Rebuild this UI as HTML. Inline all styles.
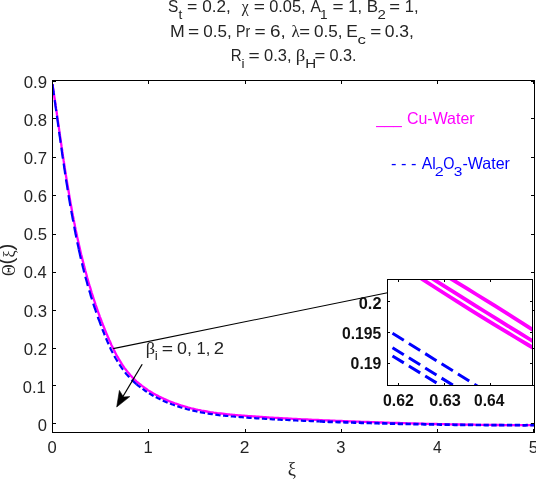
<!DOCTYPE html>
<html><head><meta charset="utf-8"><title>Temperature profile</title>
<style>html,body{margin:0;padding:0;background:#fff;}body{width:536px;height:479px;overflow:hidden;position:relative}</style>
</head><body>
<svg width="536" height="479" viewBox="0 0 536 479" style="position:absolute;left:0;top:0">
<rect width="536" height="479" fill="#fff"/>
<clipPath id="pc"><rect x="53" y="81" width="481" height="351"/></clipPath>
<g clip-path="url(#pc)">
<path d="M52.9,84.3 L52.8,86.0 L53.0,87.8 L53.3,89.5 L53.6,91.3 L53.8,93.0 L54.1,94.8 L54.3,96.6 L54.6,98.3 L54.9,100.1 L55.1,101.8 L55.4,103.6 L55.6,105.4 L55.9,107.1 L56.1,108.9 L56.4,110.7 L56.7,112.4 L56.9,114.2 L57.2,116.0 L57.4,117.7 L57.7,119.5 L57.9,121.3 L58.2,123.0 L58.4,124.8 L58.7,126.6 L59.0,128.4 L59.2,130.1 L59.5,131.9 L59.7,133.7 L60.0,135.5 L60.2,137.3 L60.5,139.0 L60.8,140.8 L61.0,142.6 L61.3,144.4 L61.5,146.2 L61.8,147.9 L62.1,149.7 L62.3,151.5 L62.6,153.3 L62.8,155.1 L63.1,156.9 L63.4,158.7 L63.6,160.4 L63.9,162.2 L64.2,164.0 L64.5,165.8 L64.7,167.6 L65.0,169.4 L65.3,171.1 L65.6,172.9 L65.8,174.7 L66.1,176.5 L66.4,178.3 L66.7,180.1 L67.0,181.9 L67.3,183.6 L67.6,185.4 L67.9,187.2 L68.2,189.0 L68.5,190.8 L68.8,192.6 L69.1,194.4 L69.4,196.1 L69.7,197.9 L70.0,199.7 L70.3,201.5 L70.6,203.3 L70.9,205.1 L71.3,206.8 L71.6,208.6 L71.9,210.4 L72.2,212.2 L72.6,214.0 L72.9,215.7 L73.3,217.5 L73.6,219.3 L74.0,221.1 L74.3,222.8 L74.7,224.6 L75.0,226.4 L75.4,228.2 L75.7,229.9 L76.1,231.7 L76.5,233.5 L76.9,235.2 L77.2,237.0 L77.6,238.8 L78.0,240.5 L78.4,242.3 L78.8,244.1 L79.2,245.8 L79.6,247.6 L80.0,249.3 L80.4,251.1 L80.8,252.9 L81.2,254.6 L81.7,256.4 L82.1,258.1 L82.5,259.9 L83.0,261.6 L83.4,263.4 L83.9,265.1 L84.3,266.9 L84.8,268.6 L85.2,270.3 L85.7,272.1 L86.2,273.8 L86.7,275.6 L87.1,277.3 L87.6,279.0 L88.1,280.8 L88.6,282.5 L89.1,284.2 L89.6,285.9 L90.2,287.7 L90.7,289.4 L91.2,291.1 L91.7,292.8 L92.3,294.5 L92.8,296.2 L93.4,298.0 L93.9,299.7 L94.5,301.4 L95.1,303.1 L95.6,304.8 L96.2,306.5 L96.8,308.2 L97.4,309.9 L98.0,311.6 L98.6,313.3 L99.2,315.0 L99.8,316.6 L100.5,318.3 L101.1,320.0 L101.7,321.7 L102.4,323.4 L103.0,325.0 L103.7,326.7 L104.4,328.4 L105.0,330.0 L105.7,331.7 L106.4,333.4 L107.1,335.0 L107.8,336.7 L108.5,338.3 L109.2,340.0 L110.0,341.6 L110.7,343.3 L111.4,344.9 L112.2,346.5 L113.0,348.1 L113.8,349.7 L114.6,351.3 L115.4,352.9 L116.2,354.5 L117.1,356.1 L118.0,357.6 L118.8,359.2 L119.8,360.7 L120.7,362.2 L121.6,363.7 L122.6,365.2 L123.6,366.6 L124.6,368.1 L125.7,369.5 L126.8,370.9 L127.9,372.3 L129.0,373.6 L130.2,375.0 L131.4,376.3 L132.6,377.6 L133.8,378.8 L135.1,380.1 L136.4,381.3 L137.8,382.5 L139.2,383.6 L140.6,384.7 L142.0,385.9 L143.4,386.9 L144.9,388.0 L146.4,389.0 L147.9,390.1 L149.4,391.1 L151.0,392.0 L152.6,393.0 L154.2,393.9 L155.8,394.8 L157.4,395.6 L159.0,396.5 L160.7,397.3 L162.3,398.1 L164.0,398.9 L165.6,399.6 L167.3,400.4 L169.0,401.1 L170.7,401.7 L172.4,402.4 L174.1,403.0 L175.8,403.7 L177.5,404.2 L179.2,404.8 L180.9,405.4 L182.6,405.9 L184.3,406.4 L186.0,406.9 L187.7,407.4 L189.4,407.8 L191.2,408.3 L192.9,408.7 L194.6,409.1 L196.3,409.5 L198.1,409.9 L199.8,410.2 L201.5,410.6 L203.3,410.9 L205.0,411.2 L206.8,411.5 L208.5,411.8 L210.3,412.1 L212.0,412.3 L213.8,412.6 L215.5,412.8 L217.3,413.1 L219.1,413.3 L220.8,413.5 L222.6,413.7 L224.4,413.9 L226.1,414.1 L227.9,414.3 L229.7,414.5 L231.5,414.6 L233.2,414.8 L235.0,415.0 L236.8,415.1 L238.6,415.3 L240.4,415.4 L242.2,415.6 L244.0,415.7 L245.7,415.8 L247.5,416.0 L249.3,416.1 L251.1,416.2 L252.9,416.4 L254.7,416.5 L256.5,416.6 L258.3,416.7 L260.1,416.9 L261.9,417.0 L263.7,417.1 L265.5,417.2 L267.3,417.3 L269.1,417.5 L270.9,417.6 L272.7,417.7 L274.6,417.8 L276.4,417.9 L278.2,418.0 L280.0,418.1 L281.8,418.2 L283.6,418.3 L285.4,418.4 L287.2,418.5 L289.1,418.6 L290.9,418.7 L292.7,418.8 L294.5,418.9 L296.3,419.0 L298.1,419.1 L299.9,419.2 L301.8,419.3 L303.6,419.4 L305.4,419.4 L307.2,419.5 L309.0,419.6 L310.8,419.7 L312.6,419.8 L314.5,419.9 L316.3,419.9 L318.1,420.0 L319.9,420.1 L321.7,420.2 L323.5,420.3 L325.3,420.3 L327.2,420.4 L329.0,420.5 L330.8,420.6 L332.6,420.6 L334.4,420.7 L336.2,420.8 L338.0,420.9 L339.8,420.9 L341.6,421.0 L343.5,421.1 L345.3,421.1 L347.1,421.2 L348.9,421.3 L350.7,421.4 L352.5,421.4 L354.3,421.5 L356.1,421.6 L357.9,421.6 L359.7,421.7 L361.5,421.8 L363.3,421.8 L365.1,421.9 L366.9,422.0 L368.7,422.0 L370.5,422.1 L372.3,422.2 L374.1,422.2 L375.9,422.3 L377.7,422.3 L379.4,422.4 L381.2,422.5 L383.0,422.5 L384.8,422.6 L386.6,422.6 L388.4,422.7 L390.2,422.8 L392.0,422.8 L393.8,422.9 L395.6,422.9 L397.4,423.0 L399.2,423.0 L400.9,423.1 L402.7,423.1 L404.5,423.2 L406.3,423.3 L408.1,423.3 L409.9,423.4 L411.7,423.4 L413.5,423.5 L415.3,423.5 L417.0,423.6 L418.8,423.6 L420.6,423.6 L422.4,423.7 L424.2,423.7 L426.0,423.8 L427.8,423.8 L429.6,423.9 L431.4,423.9 L433.1,424.0 L434.9,424.0 L436.7,424.0 L438.5,424.1 L440.3,424.1 L442.1,424.2 L443.9,424.2 L445.7,424.2 L447.5,424.3 L449.3,424.3 L451.1,424.3 L452.8,424.4 L454.6,424.4 L456.4,424.5 L458.2,424.5 L460.0,424.5 L461.8,424.5 L463.6,424.6 L465.4,424.6 L467.2,424.6 L469.0,424.7 L470.8,424.7 L472.6,424.7 L474.4,424.7 L476.2,424.8 L478.0,424.8 L479.8,424.8 L481.6,424.8 L483.4,424.9 L485.2,424.9 L487.0,424.9 L488.8,424.9 L490.6,424.9 L492.4,425.0 L494.2,425.0 L496.0,425.0 L497.8,425.0 L499.6,425.0 L501.4,425.0 L503.3,425.1 L505.1,425.1 L506.9,425.1 L508.7,425.1 L510.5,425.1 L512.3,425.1 L514.1,425.1 L516.0,425.1 L517.8,425.1 L519.6,425.1 L521.4,425.1 L523.2,425.1 L525.1,425.1 L526.9,425.1 L528.7,425.1 L530.5,425.1 L532.4,425.1 L534.2,425.1" fill="none" stroke="#ff00ff" stroke-width="2.3"/>
<path d="M52.8,84.3 L52.7,86.0 L52.9,87.8 L53.2,89.6 L53.4,91.3 L53.7,93.1 L53.9,94.8 L54.2,96.6 L54.4,98.3 L54.7,100.1 L54.9,101.9 L55.2,103.6 L55.4,105.4 L55.7,107.2 L55.9,108.9 L56.2,110.7 L56.4,112.5 L56.7,114.2 L56.9,116.0 L57.2,117.8 L57.4,119.5 L57.7,121.3 L57.9,123.1 L58.1,124.9 L58.4,126.6 L58.6,128.4 L58.9,130.2 L59.1,132.0 L59.4,133.8 L59.6,135.5 L59.9,137.3 L60.1,139.1 L60.4,140.9 L60.6,142.7 L60.9,144.4 L61.1,146.2 L61.4,148.0 L61.6,149.8 L61.9,151.6 L62.1,153.4 L62.4,155.2 L62.6,156.9 L62.9,158.7 L63.2,160.5 L63.4,162.3 L63.7,164.1 L64.0,165.9 L64.2,167.7 L64.5,169.4 L64.8,171.2 L65.0,173.0 L65.3,174.8 L65.6,176.6 L65.8,178.4 L66.1,180.2 L66.4,182.0 L66.7,183.7 L67.0,185.5 L67.3,187.3 L67.5,189.1 L67.8,190.9 L68.1,192.7 L68.4,194.5 L68.7,196.3 L69.0,198.0 L69.3,199.8 L69.6,201.6 L69.9,203.4 L70.2,205.2 L70.6,207.0 L70.9,208.7 L71.2,210.5 L71.5,212.3 L71.8,214.1 L72.2,215.9 L72.5,217.7 L72.8,219.4 L73.2,221.2 L73.5,223.0 L73.8,224.8 L74.2,226.5 L74.5,228.3 L74.8,230.1 L75.2,231.9 L75.5,233.7 L75.9,235.4 L76.2,237.2 L76.6,239.0 L77.0,240.8 L77.3,242.5 L77.7,244.3 L78.1,246.1 L78.5,247.8 L78.8,249.6" fill="none" stroke="#0000ff" stroke-width="2.2" stroke-dasharray="11 5"/>
<path d="M78.8,249.6 L79.2,251.4 L79.6,253.1 L80.0,254.9 L80.4,256.7 L80.8,258.4 L81.2,260.2 L81.7,261.9 L82.1,263.7 L82.5,265.5 L82.9,267.2 L83.4,269.0 L83.8,270.7 L84.2,272.5 L84.7,274.2 L85.2,276.0 L85.6,277.7 L86.1,279.5 L86.6,281.2 L87.1,282.9 L87.5,284.7 L88.0,286.4 L88.5,288.1 L89.0,289.9 L89.6,291.6 L90.1,293.3 L90.6,295.1 L91.1,296.8 L91.7,298.5 L92.2,300.2 L92.7,302.0 L93.3,303.7 L93.8,305.4 L94.4,307.1 L95.0,308.8 L95.6,310.5 L96.1,312.2 L96.7,313.9 L97.3,315.6 L97.9,317.3 L98.5,319.0 L99.2,320.7 L99.8,322.4 L100.4,324.1 L101.1,325.8 L101.7,327.5 L102.3,329.2" fill="none" stroke="#0000ff" stroke-width="2.2" stroke-dasharray="9.5 4.5"/>
<path d="M102.3,329.2 L103.0,330.9 L103.7,332.5 L104.3,334.2 L105.0,335.9 L105.7,337.6 L106.4,339.2 L107.1,340.9 L107.8,342.6 L108.6,344.2 L109.3,345.9 L110.1,347.5 L110.8,349.2 L111.6,350.8 L112.5,352.4 L113.3,354.0 L114.1,355.6 L115.0,357.2 L115.9,358.8 L116.8,360.3 L117.8,361.9 L118.7,363.4 L119.7,364.9 L120.7,366.4 L121.7,367.9 L122.8,369.4 L123.9,370.8 L125.0,372.3 L126.1,373.7 L127.3,375.1 L128.5,376.4 L129.7,377.8 L131.0,379.1 L132.3,380.4 L133.6,381.6 L135.0,382.9 L136.4,384.1" fill="none" stroke="#0000ff" stroke-width="2.2" stroke-dasharray="6.5 3.3"/>
<path d="M136.4,384.1 L137.8,385.3 L139.2,386.4 L140.7,387.6 L142.2,388.7 L143.7,389.7 L145.2,390.8 L146.8,391.8 L148.3,392.8 L149.9,393.8 L151.5,394.7 L153.1,395.7 L154.8,396.6 L156.4,397.4 L158.1,398.3 L159.8,399.1 L161.4,399.9 L163.1,400.7 L164.8,401.4 L166.5,402.2 L168.2,402.9 L170.0,403.5 L171.7,404.2 L173.4,404.8 L175.1,405.5 L176.8,406.0 L178.6,406.6 L180.3,407.2 L182.0,407.7 L183.7,408.2 L185.5,408.7 L187.2,409.2 L189.0,409.6 L190.7,410.1 L192.4,410.5 L194.2,410.9 L195.9,411.3 L197.7,411.7 L199.4,412.0 L201.2,412.4 L203.0,412.7 L204.7,413.0 L206.5,413.3 L208.2,413.6 L210.0,413.8 L211.8,414.1 L213.5,414.4 L215.3,414.6 L217.1,414.8 L218.9,415.1 L220.6,415.3 L222.4,415.5 L224.2,415.7 L226.0,415.8 L227.7,416.0 L229.5,416.2 L231.3,416.4 L233.1,416.5 L234.9,416.7 L236.7,416.8 L238.5,417.0 L240.2,417.1 L242.0,417.2 L243.8,417.4 L245.6,417.5 L247.4,417.6 L249.2,417.8 L251.0,417.9 L252.8,418.0 L254.6,418.1 L256.4,418.3 L258.2,418.4 L260.0,418.5 L261.8,418.6 L263.6,418.7 L265.4,418.8 L267.2,418.9 L269.0,419.1 L270.8,419.2 L272.7,419.3 L274.5,419.4 L276.3,419.5 L278.1,419.6 L279.9,419.7 L281.7,419.8 L283.5,419.9 L285.3,419.9 L287.2,420.0 L289.0,420.1 L290.8,420.2 L292.6,420.3 L294.4,420.4 L296.2,420.5 L298.0,420.6 L299.9,420.6 L301.7,420.7 L303.5,420.8 L305.3,420.9 L307.1,420.9 L309.0,421.0 L310.8,421.1 L312.6,421.2 L314.4,421.2 L316.2,421.3 L318.0,421.4 L319.8,421.4" fill="none" stroke="#0000ff" stroke-width="2.2" stroke-dasharray="5.3 2.5"/>
<path d="M319.8,421.4 L321.7,421.5 L323.5,421.6 L325.3,421.6 L327.1,421.7 L328.9,421.8 L330.7,421.8 L332.5,421.9 L334.4,422.0 L336.2,422.0 L338.0,422.1 L339.8,422.1 L341.6,422.2 L343.4,422.2 L345.2,422.3 L347.0,422.4 L348.8,422.4 L350.6,422.5 L352.4,422.5 L354.2,422.6 L356.0,422.6 L357.8,422.7 L359.6,422.7 L361.4,422.8 L363.2,422.8 L365.0,422.9 L366.8,422.9 L368.6,423.0 L370.4,423.0 L372.2,423.1 L374.0,423.1 L375.8,423.2 L377.6,423.2 L379.4,423.3 L381.2,423.3 L383.0,423.4 L384.8,423.4 L386.6,423.5 L388.4,423.5 L390.2,423.6 L392.0,423.6 L393.8,423.6 L395.5,423.7 L397.3,423.7 L399.1,423.8 L400.9,423.8 L402.7,423.8 L404.5,423.9 L406.3,423.9 L408.1,424.0 L409.9,424.0 L411.7,424.0 L413.5,424.1 L415.2,424.1 L417.0,424.1 L418.8,424.2 L420.6,424.2 L422.4,424.2 L424.2,424.3 L426.0,424.3 L427.8,424.3 L429.6,424.4 L431.3,424.4 L433.1,424.4 L434.9,424.5 L436.7,424.5 L438.5,424.5 L440.3,424.6 L442.1,424.6 L443.9,424.6 L445.7,424.6 L447.5,424.7 L449.3,424.7 L451.0,424.7 L452.8,424.7 L454.6,424.8 L456.4,424.8 L458.2,424.8 L460.0,424.8 L461.8,424.8 L463.6,424.9 L465.4,424.9 L467.2,424.9 L469.0,424.9 L470.8,424.9 L472.6,424.9 L474.4,425.0 L476.2,425.0 L478.0,425.0 L479.8,425.0 L481.6,425.0 L483.4,425.0 L485.2,425.1 L487.0,425.1 L488.8,425.1 L490.6,425.1 L492.4,425.1 L494.2,425.1 L496.0,425.2 L497.8,425.2 L499.6,425.2 L501.4,425.2 L503.3,425.2 L505.1,425.2 L506.9,425.2 L508.7,425.2 L510.5,425.2 L512.3,425.2 L514.1,425.2 L516.0,425.2 L517.8,425.2 L519.6,425.2 L521.4,425.3 L523.2,425.3 L525.1,425.3 L526.9,425.2 L528.7,425.2 L530.5,425.2 L532.4,425.2 L534.2,425.2" fill="none" stroke="#0000ff" stroke-width="2.7" stroke-dasharray="5.3 2.5"/>
</g>
<g stroke="#000" stroke-width="1" fill="none" shape-rendering="crispEdges">
<rect x="52.5" y="80.5" width="482.0" height="352.0"/>
<path d="M52.5,432.5v-3.2M52.5,80.5v3.2"/>
<path d="M148.5,432.5v-3.2M148.5,80.5v3.2"/>
<path d="M245.5,432.5v-3.2M245.5,80.5v3.2"/>
<path d="M341.5,432.5v-3.2M341.5,80.5v3.2"/>
<path d="M437.5,432.5v-3.2M437.5,80.5v3.2"/>
<path d="M533.5,432.5v-3.2M533.5,80.5v3.2"/>
<path d="M52.5,423.5h3.2M534.5,423.5h-3.2"/>
<path d="M52.5,385.5h3.2M534.5,385.5h-3.2"/>
<path d="M52.5,348.5h3.2M534.5,348.5h-3.2"/>
<path d="M52.5,310.5h3.2M534.5,310.5h-3.2"/>
<path d="M52.5,272.5h3.2M534.5,272.5h-3.2"/>
<path d="M52.5,234.5h3.2M534.5,234.5h-3.2"/>
<path d="M52.5,195.5h3.2M534.5,195.5h-3.2"/>
<path d="M52.5,157.5h3.2M534.5,157.5h-3.2"/>
<path d="M52.5,118.5h3.2M534.5,118.5h-3.2"/>
<path d="M52.5,81.5h3.2M534.5,81.5h-3.2"/>
</g>
<text font-family="Liberation Sans, Arial, sans-serif" font-size="16.5" fill="#242424"><tspan x="37.77" y="430.90" font-size="16.5" textLength="9.22" lengthAdjust="spacingAndGlyphs">0</tspan><tspan x="22.85" y="392.77" font-size="16.5">0.1</tspan><tspan x="23.76" y="354.64" font-size="16.5" textLength="23.36" lengthAdjust="spacingAndGlyphs">0.2</tspan><tspan x="23.77" y="316.51" font-size="16.5" textLength="23.23" lengthAdjust="spacingAndGlyphs">0.3</tspan><tspan x="23.77" y="278.38" font-size="16.5" textLength="22.96" lengthAdjust="spacingAndGlyphs">0.4</tspan><tspan x="23.77" y="240.25" font-size="16.5" textLength="23.23" lengthAdjust="spacingAndGlyphs">0.5</tspan><tspan x="23.77" y="202.12" font-size="16.5" textLength="23.23" lengthAdjust="spacingAndGlyphs">0.6</tspan><tspan x="23.76" y="163.99" font-size="16.5" textLength="23.36" lengthAdjust="spacingAndGlyphs">0.7</tspan><tspan x="23.77" y="125.86" font-size="16.5" textLength="23.23" lengthAdjust="spacingAndGlyphs">0.8</tspan><tspan x="23.76" y="87.73" font-size="16.5" textLength="23.36" lengthAdjust="spacingAndGlyphs">0.9</tspan></text>
<text font-family="Liberation Sans, Arial, sans-serif" font-size="16.5" fill="#242424"><tspan x="47.62" y="452.80" font-size="16.5" textLength="9.22" lengthAdjust="spacingAndGlyphs">0</tspan><tspan x="143.45" y="452.80" font-size="16.5">1</tspan><tspan x="239.83" y="452.80" font-size="16.5" textLength="9.68" lengthAdjust="spacingAndGlyphs">2</tspan><tspan x="336.37" y="452.80" font-size="16.5" textLength="9.22" lengthAdjust="spacingAndGlyphs">3</tspan><tspan x="432.90" y="452.80" font-size="16.5" textLength="8.67" lengthAdjust="spacingAndGlyphs">4</tspan><tspan x="528.74" y="452.80" font-size="16.5" textLength="9.37" lengthAdjust="spacingAndGlyphs">5</tspan></text>
<text font-family="Liberation Sans, Arial, sans-serif" font-size="16.5" fill="#242424"><tspan x="168.00" y="11.80" font-size="16.5" textLength="10.32" lengthAdjust="spacingAndGlyphs">S</tspan><tspan x="178.55" y="19.00" font-size="13.6" textLength="3.81" lengthAdjust="spacingAndGlyphs">t</tspan><tspan x="187.10" y="11.80" font-size="16.5" textLength="10.32" lengthAdjust="spacingAndGlyphs">=</tspan><tspan x="202.15" y="11.80" font-size="16.5" textLength="28.64" lengthAdjust="spacingAndGlyphs">0.2,</tspan><tspan x="241.80" y="11.80" font-family="Liberation Serif, serif" font-size="17" textLength="6.94" lengthAdjust="spacingAndGlyphs">χ</tspan><tspan x="253.73" y="11.80" font-size="16.5" textLength="11.15" lengthAdjust="spacingAndGlyphs">=</tspan><tspan x="269.18" y="11.80" font-size="16.5" textLength="36.36" lengthAdjust="spacingAndGlyphs">0.05,</tspan><tspan x="310.50" y="11.80" font-size="16.5" textLength="10.41" lengthAdjust="spacingAndGlyphs">A</tspan><tspan x="319.90" y="19.00" font-size="13.6">1</tspan><tspan x="332.44" y="11.80" font-size="16.5" textLength="11.03" lengthAdjust="spacingAndGlyphs">=</tspan><tspan x="348.25" y="11.80" font-size="16.5">1,</tspan><tspan x="366.89" y="11.80" font-size="16.5" textLength="11.33" lengthAdjust="spacingAndGlyphs">B</tspan><tspan x="377.41" y="19.00" font-size="13.6" textLength="8.35" lengthAdjust="spacingAndGlyphs">2</tspan><tspan x="389.26" y="11.80" font-size="16.5" textLength="10.80" lengthAdjust="spacingAndGlyphs">=</tspan><tspan x="404.85" y="11.80" font-size="16.5">1,</tspan></text>
<text font-family="Liberation Sans, Arial, sans-serif" font-size="16.5" fill="#242424"><tspan x="169.93" y="36.50" font-size="16.5" textLength="14.75" lengthAdjust="spacingAndGlyphs">M</tspan><tspan x="188.03" y="36.50" font-size="16.5" textLength="11.15" lengthAdjust="spacingAndGlyphs">=</tspan><tspan x="203.35" y="36.50" font-size="16.5" textLength="28.43" lengthAdjust="spacingAndGlyphs">0.5,</tspan><tspan x="236.02" y="36.50" font-size="16.5" textLength="14.20" lengthAdjust="spacingAndGlyphs">Pr</tspan><tspan x="254.53" y="36.50" font-size="16.5" textLength="11.15" lengthAdjust="spacingAndGlyphs">=</tspan><tspan x="270.00" y="36.50" font-size="16.5" textLength="15.73" lengthAdjust="spacingAndGlyphs">6,</tspan><tspan x="291.50" y="36.50" font-family="Liberation Serif, serif" font-size="17" textLength="8.22" lengthAdjust="spacingAndGlyphs">λ</tspan><tspan x="299.36" y="36.50" font-size="16.5" textLength="10.80" lengthAdjust="spacingAndGlyphs">=</tspan><tspan x="314.05" y="36.50" font-size="16.5" textLength="28.53" lengthAdjust="spacingAndGlyphs">0.5,</tspan><tspan x="346.16" y="36.50" font-size="16.5" textLength="11.54" lengthAdjust="spacingAndGlyphs">E</tspan><tspan x="357.43" y="43.50" font-size="13.6" textLength="8.39" lengthAdjust="spacingAndGlyphs">c</tspan><tspan x="370.24" y="36.50" font-size="16.5" textLength="11.03" lengthAdjust="spacingAndGlyphs">=</tspan><tspan x="384.74" y="36.50" font-size="16.5" textLength="29.19" lengthAdjust="spacingAndGlyphs">0.3,</tspan></text>
<text font-family="Liberation Sans, Arial, sans-serif" font-size="16.5" fill="#242424"><tspan x="230.84" y="60.90" font-size="16.5" textLength="10.88" lengthAdjust="spacingAndGlyphs">R</tspan><tspan x="241.50" y="67.80" font-size="13.6">i</tspan><tspan x="248.63" y="60.90" font-size="16.5" textLength="11.15" lengthAdjust="spacingAndGlyphs">=</tspan><tspan x="264.08" y="60.90" font-size="16.5" textLength="27.45" lengthAdjust="spacingAndGlyphs">0.3,</tspan><tspan x="295.75" y="60.90" font-family="Liberation Serif, serif" font-size="17" textLength="9.62" lengthAdjust="spacingAndGlyphs">β</tspan><tspan x="305.15" y="67.80" font-size="13.6" textLength="10.96" lengthAdjust="spacingAndGlyphs">H</tspan><tspan x="314.56" y="60.90" font-size="16.5" textLength="10.80" lengthAdjust="spacingAndGlyphs">=</tspan><tspan x="329.38" y="60.90" font-size="16.5" textLength="27.12" lengthAdjust="spacingAndGlyphs">0.3.</tspan></text>
<text x="291.9" y="475.2" text-anchor="middle" font-family="Liberation Serif, serif" font-size="18.5" fill="#242424">ξ</text>
<text transform="translate(14.8,276) rotate(-90)" font-family="Liberation Sans, sans-serif" font-size="16.5" fill="#242424"><tspan font-family="Liberation Serif, serif" font-size="18" textLength="11.6" lengthAdjust="spacingAndGlyphs">Θ</tspan><tspan font-size="20.5" dy="-1.5">(</tspan><tspan font-family="Liberation Serif, serif" font-size="16" dy="1.5">ξ</tspan><tspan font-size="20.5" dy="-1.5">)</tspan></text>
<text font-family="Liberation Sans, Arial, sans-serif" font-size="16.5" fill="#ff00ff"><tspan x="376.13" y="124.30" font-size="16.5" textLength="25.56" lengthAdjust="spacingAndGlyphs">___</tspan><tspan x="406.95" y="124.40" font-size="16.5" textLength="67.67" lengthAdjust="spacingAndGlyphs">Cu-Water</tspan></text>
<text font-family="Liberation Sans, Arial, sans-serif" font-size="16.5" fill="#0000ff"><tspan x="391.05" y="168.60" font-size="16.5" textLength="25.52" lengthAdjust="spacingAndGlyphs">- - -</tspan><tspan x="421.70" y="168.70" font-size="16.5" textLength="14.02" lengthAdjust="spacingAndGlyphs">Al</tspan><tspan x="434.86" y="175.70" font-size="13.6" textLength="8.95" lengthAdjust="spacingAndGlyphs">2</tspan><tspan x="443.15" y="168.70" font-size="16.5" textLength="11.19" lengthAdjust="spacingAndGlyphs">O</tspan><tspan x="453.83" y="175.70" font-size="13.6" textLength="8.61" lengthAdjust="spacingAndGlyphs">3</tspan><tspan x="462.47" y="168.70" font-size="16.5" textLength="47.49" lengthAdjust="spacingAndGlyphs">-Water</tspan></text>
<path d="M113.2,348.6 L387.5,292.8" stroke="#000" stroke-width="1.1" fill="none"/>
<path d="M142.2,364.3 L122.8,396.8" stroke="#000" stroke-width="1.25" fill="none"/>
<path d="M116.7,407 L119.4,390.4 L123.4,397 L129.8,396.6 Z" fill="#000" stroke="#000" stroke-width="0.6"/>
<text font-family="Liberation Sans, Arial, sans-serif" font-size="16.5" fill="#242424"><tspan x="145.78" y="353.60" font-family="Liberation Serif, serif" font-size="17" textLength="9.36" lengthAdjust="spacingAndGlyphs">β</tspan><tspan x="154.65" y="360.40" font-size="13.6">i</tspan><tspan x="161.82" y="353.60" font-size="16.5" textLength="11.27" lengthAdjust="spacingAndGlyphs">=</tspan><tspan x="177.12" y="353.60" font-size="16.5" textLength="14.92" lengthAdjust="spacingAndGlyphs">0,</tspan><tspan x="196.50" y="353.60" font-size="16.5">1,</tspan><tspan x="213.72" y="353.60" font-size="16.5" textLength="10.29" lengthAdjust="spacingAndGlyphs">2</tspan></text>
<rect x="387.5" y="279.5" width="145.0" height="106.0" fill="#fff" stroke="none"/>
<clipPath id="ic"><rect x="387.5" y="279.5" width="145.0" height="106.0"/></clipPath>
<g clip-path="url(#ic)" fill="none">
<path d="M440.4,272.3 L449.5,277.8 L458.5,283.3 L467.6,288.9 L476.6,294.5 L485.7,300.1 L494.7,305.7 L503.8,311.4 L512.8,317.1 L521.9,322.8 L530.9,328.6 L540.0,334.4" stroke="#ff00ff" stroke-width="3.8"/>
<path d="M422.1,272.2 L432.8,278.9 L443.5,285.7 L454.3,292.4 L465.0,299.1 L475.7,305.8 L486.4,312.5 L497.1,319.1 L507.8,325.8 L518.6,332.4 L529.3,339.0 L540.0,345.5" stroke="#ff00ff" stroke-width="3.8"/>
<path d="M410.9,271.7 L422.6,279.4 L434.4,287.0 L446.1,294.5 L457.8,301.9 L469.6,309.3 L481.3,316.6 L493.1,323.8 L504.8,330.9 L516.5,338.0 L528.3,345.0 L540.0,351.9" stroke="#ff00ff" stroke-width="3.8"/>
<path d="M392.5,333.3 l100,62.2" stroke="#0000ff" stroke-width="3" stroke-dasharray="13.31 5.95"/>
<path d="M392.5,347.7 l100,62.0" stroke="#0000ff" stroke-width="3" stroke-dasharray="13.30 5.94"/>
<path d="M392.5,356.0 l100,61.0" stroke="#0000ff" stroke-width="3" stroke-dasharray="13.24 5.92"/>
</g>
<g stroke="#000" stroke-width="1" fill="none" shape-rendering="crispEdges">
<rect x="387.5" y="279.5" width="145.0" height="106.0"/>
<path d="M398.5,385.5v-2.5M398.5,279.5v2.5"/>
<path d="M444.5,385.5v-2.5M444.5,279.5v2.5"/>
<path d="M490.5,385.5v-2.5M490.5,279.5v2.5"/>
<path d="M387.5,301.5h2.5M532.5,301.5h-2.5"/>
<path d="M387.5,332.5h2.5M532.5,332.5h-2.5"/>
<path d="M387.5,363.5h2.5M532.5,363.5h-2.5"/>
</g>
<text font-family="Liberation Sans, Arial, sans-serif" font-size="15.5" font-weight="bold" fill="#111"><tspan x="358.79" y="309.10" font-size="16.8" textLength="22.71" lengthAdjust="spacingAndGlyphs">0.2</tspan><tspan x="341.91" y="338.90" font-size="16.8" textLength="39.35" lengthAdjust="spacingAndGlyphs">0.195</tspan><tspan x="350.61" y="369.20" font-size="16.8" textLength="30.82" lengthAdjust="spacingAndGlyphs">0.19</tspan></text>
<text font-family="Liberation Sans, Arial, sans-serif" font-size="15.5" font-weight="bold" fill="#111"><tspan x="383.01" y="406.40" font-size="16.8" textLength="30.82" lengthAdjust="spacingAndGlyphs">0.62</tspan><tspan x="429.19" y="406.40" font-size="16.8" textLength="31.74" lengthAdjust="spacingAndGlyphs">0.63</tspan><tspan x="474.02" y="406.40" font-size="16.8" textLength="30.32" lengthAdjust="spacingAndGlyphs">0.64</tspan></text>
</svg>
</body></html>
